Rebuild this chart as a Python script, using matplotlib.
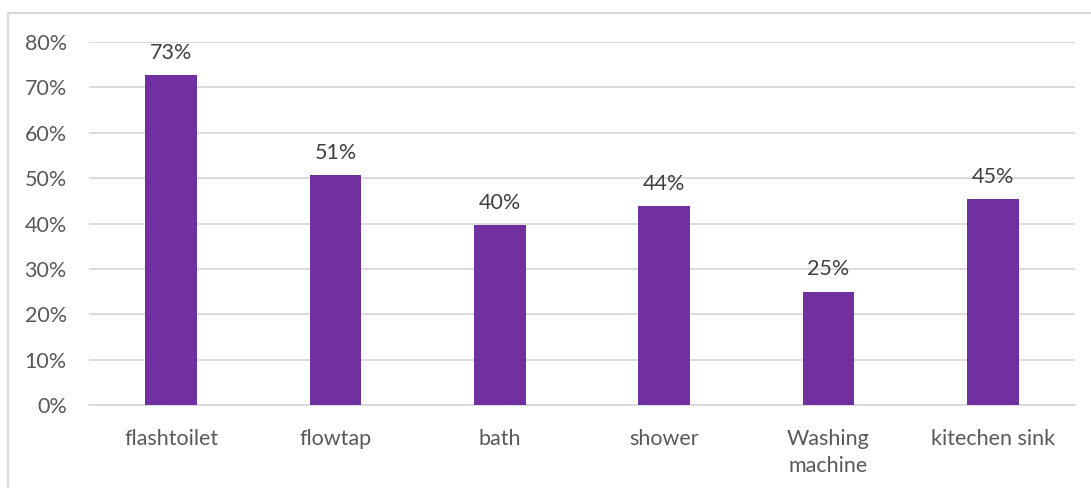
import matplotlib
matplotlib.use("Agg")
from matplotlib import pyplot as plt
from matplotlib.patches import Rectangle

categories = ["flashtoilet", "flowtap", "bath", "shower", "Washing\nmachine", "kitechen sink"]
values = [0.727, 0.506, 0.396, 0.438, 0.250, 0.453]
labels = ["73%", "51%", "40%", "44%", "25%", "45%"]
yticks = [0, 0.1, 0.2, 0.3, 0.4, 0.5, 0.6, 0.7, 0.8]

plt.rcParams['font.family'] = ['Lato', 'DejaVu Sans']
W, H = 1091, 488
fig = plt.figure(figsize=(W / 100, H / 100), dpi=100)

# outer chart border (light grey, runs off right and bottom edges)
fig.patches.append(Rectangle((8 / W, -0.1), 1.2, 1 - 13 / H + 0.1, transform=fig.transFigure,
                             fill=False, edgecolor='#D9D9D9', linewidth=1.5))

ax = fig.add_axes([89 / W, 1 - 405 / H, (1075 - 89) / W, (405 - 42) / H])
x = range(len(categories))
bars = ax.bar(x, values, width=0.316, color='#7030A0', zorder=3)
for b, lab in zip(bars, labels):
    ax.annotate(lab, (b.get_x() + b.get_width() / 2, b.get_height()), xytext=(0, 9),
                textcoords='offset points', ha='center', va='bottom', fontsize=15.5, color='#404040')

ax.set_xlim(-0.5, len(categories) - 0.5)
ax.set_ylim(0, 0.8)
ax.set_yticks(yticks)
ax.set_yticklabels([f"{int(round(t * 100))}%" for t in yticks])
ax.set_xticks(list(x))
ax.set_xticklabels(categories, linespacing=1.45)
ax.tick_params(axis='y', length=0, pad=16, labelsize=15.5, labelcolor='#595959')
ax.tick_params(axis='x', length=0, pad=17, labelsize=15.5, labelcolor='#595959')
ax.grid(axis='y', color='#D9D9D9', linewidth=1.3, zorder=0)
for s in ['top', 'right', 'left']:
    ax.spines[s].set_visible(False)
ax.spines['bottom'].set_color('#D9D9D9')
ax.spines['bottom'].set_linewidth(1.3)

fig.savefig("out.png", dpi=100)
